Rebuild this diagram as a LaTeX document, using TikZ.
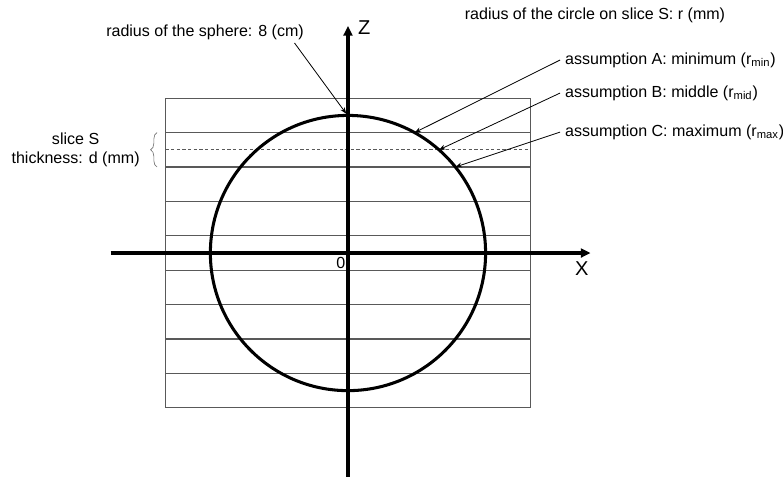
\documentclass[tikz,border=0pt]{standalone}
\usepackage{fontspec}
\setmainfont{Liberation Sans}
\usepackage{tikz}
\usetikzlibrary{arrows.meta,positioning,decorations.pathreplacing}

\begin{document}
\begin{tikzpicture}[x=0.377cm, y=0.377cm, font=\fontsize{10}{12}\selectfont,
  axis/.style={line width=2pt, -{Triangle[length=6pt,width=5.5pt]}},
  sphere/.style={line width=1.9pt},
  slice/.style={draw=black!65, line width=0.7pt},
  ptr/.style={line width=0.5pt, -{Stealth[length=4pt,width=3pt]}},
  lbl/.style={inner sep=3pt, align=center},
  axlab/.style={font=\fontsize{12.5}{14}\selectfont}
]
  \useasboundingbox (-20.23,-12.97) rectangle (25.29,14.71);
  % slices of the sphere
  \draw[slice] (-10.6,-9) rectangle (10.6,9);
  \foreach \z in {-7,-5,...,7}
    \draw[slice] (-10.6,\z) -- (10.6,\z);
  \draw[slice, dash pattern=on 2pt off 1.5pt] (-10.6,6) -- (10.6,6);

  % sphere and axes
  \coordinate (O) at (0,0);
  \draw[sphere] (O) circle (8);
  \draw[axis] (-13.8,0) -- (14.1,0);
  \draw[axis] (0,-13.2) -- (0,13.2);
  \node[axlab] (xlab) at (13.6,-0.93) {X};
  \node[axlab] (zlab) at (0.95,13.1) {Z};
  \node (orig) at (-0.41,-0.55) {0};

  % points on the circle
  \coordinate (top) at (-0.1,8.1);
  \coordinate (pA) at ({sqrt(15)},7);
  \coordinate (pB) at ({sqrt(28)},6);
  \coordinate (pC) at ({sqrt(39)},5);

  % labels
  \node[lbl] (rsph) at (-8.31,12.85) {radius of the sphere: 8 (cm)};
  \node[lbl] (rcir) at (14.36,13.84) {radius of the circle on slice S: r (mm)};
  \node[lbl, anchor=west] (asA) at (12.33,11.22) {assumption A: minimum (r\textsubscript{min})};
  \node[lbl, anchor=west] (asB) at (12.33,9.3) {assumption B: middle (r\textsubscript{mid})};
  \node[lbl, anchor=west] (asC) at (12.33,7.03) {assumption C: maximum (r\textsubscript{max})};

  \draw[ptr] ([xshift=-9pt,yshift=1pt]rsph.south east) -- (top);
  \draw[ptr] (asA.west) -- (pA);
  \draw[ptr] (asB.west) -- (pB);
  \draw[ptr] (asC.west) -- (pC);

  % slice thickness
  \coordinate (brc) at (-11.47,6);
  \draw[black!55, decorate, decoration={brace, amplitude=4pt, aspect=0.5}] (-11.1,5) -- (-11.1,7);
  \node[lbl, left=3.7pt of brc] (slab) {slice S\\thickness: d (mm)};
\end{tikzpicture}
\end{document}
